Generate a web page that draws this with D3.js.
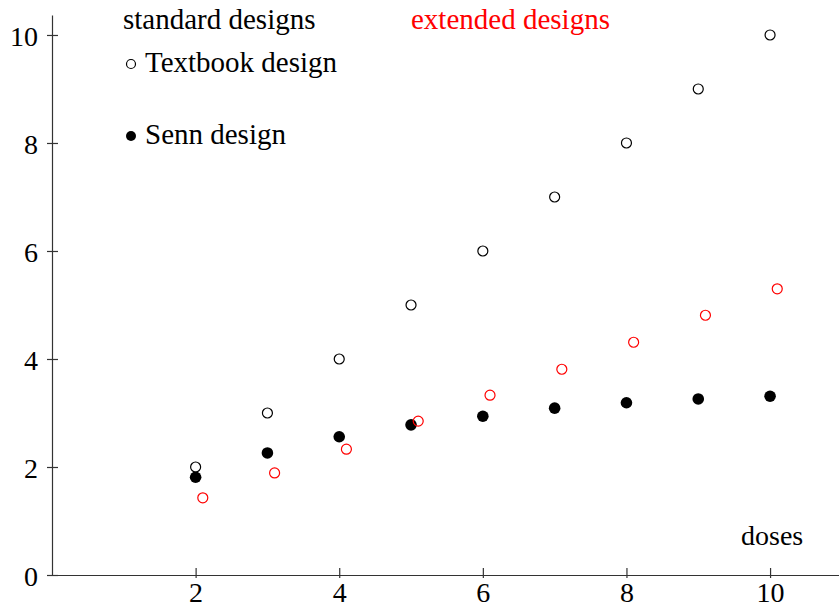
<!DOCTYPE html>
<html><head><meta charset="utf-8">
<script src="https://cdn.jsdelivr.net/npm/d3@7"></script>
<style>body{margin:0;background:#fff}svg{display:block}text{font-family:"Liberation Serif","Times New Roman",serif}</style>
</head><body>
<script>
const doses = [2,3,4,5,6,7,8,9,10];
const textbook = [2,3,4,5,6,7,8,9,10];
const senn = [1.81,2.26,2.56,2.78,2.94,3.09,3.19,3.26,3.31];
const extendedX = [2.1,3.1,4.1,5.1,6.1,7.1,8.1,9.1,10.1];
const extended = [1.43,1.89,2.33,2.85,3.33,3.81,4.31,4.81,5.30];
const xTicks = [2,4,6,8,10];
const yTicks = [0,2,4,6,8,10];

const W=839,H=608;
const svg=d3.select("body").append("svg").attr("width",W).attr("height",H);
const x=d3.scaleLinear().domain([0,10.96]).range([52,839]);
const y=d3.scaleLinear().domain([0,10.37]).range([575,15]);

const gx=svg.append("g").attr("transform","translate(0,575)")
 .call(d3.axisBottom(x).tickValues(xTicks).tickSize(0).tickPadding(0));
gx.select(".domain").attr("stroke","#333").attr("stroke-width",1.2);
gx.selectAll(".tick text").remove();
gx.selectAll(".tick").append("line").attr("y1",-7).attr("y2",3).attr("stroke","#333").attr("stroke-width",1.2);
gx.selectAll(".tick").append("text").attr("y",27).attr("fill","#000").attr("text-anchor","middle")
 .style("font-size","28px").text(d=>d);

const gy=svg.append("g").attr("transform","translate(52,0)")
 .call(d3.axisLeft(y).tickValues(yTicks).tickSize(0).tickPadding(0));
gy.select(".domain").attr("stroke","#333").attr("stroke-width",1.2);
gy.selectAll(".tick text").remove();
gy.selectAll(".tick").append("line").attr("x1",-5).attr("x2",6).attr("stroke","#333").attr("stroke-width",1.2);
gy.selectAll(".tick").append("text").attr("x",-14).attr("dy","0.36em").attr("fill","#000").attr("text-anchor","end")
 .style("font-size","28px").text(d=>d);

svg.append("g").selectAll("circle").data(doses.map((d,i)=>[d,textbook[i]])).join("circle")
 .attr("cx",d=>x(d[0])).attr("cy",d=>y(d[1])).attr("r",5).attr("fill","none").attr("stroke","#000").attr("stroke-width",1.2);
svg.append("g").selectAll("circle").data(doses.map((d,i)=>[d,senn[i]])).join("circle")
 .attr("cx",d=>x(d[0])).attr("cy",d=>y(d[1])).attr("r",5.8).attr("fill","#000");
svg.append("g").selectAll("circle").data(extendedX.map((d,i)=>[d,extended[i]])).join("circle")
 .attr("cx",d=>x(d[0])).attr("cy",d=>y(d[1])).attr("r",5).attr("fill","none").attr("stroke","#f00").attr("stroke-width",1.2);

svg.append("text").attr("x",123).attr("y",29).style("font-size","29px").text("standard designs");
svg.append("text").attr("x",411).attr("y",29).style("font-size","29px").attr("fill","#f00").text("extended designs");
svg.append("circle").attr("cx",131).attr("cy",64).attr("r",4.5).attr("fill","none").attr("stroke","#000").attr("stroke-width",1.2);
svg.append("text").attr("x",145).attr("y",72).style("font-size","29px").text("Textbook design");
svg.append("circle").attr("cx",131).attr("cy",136).attr("r",5).attr("fill","#000");
svg.append("text").attr("x",145).attr("y",144).style("font-size","29px").text("Senn design");
svg.append("text").attr("x",741).attr("y",545).style("font-size","28px").text("doses");
</script>
</body></html>
